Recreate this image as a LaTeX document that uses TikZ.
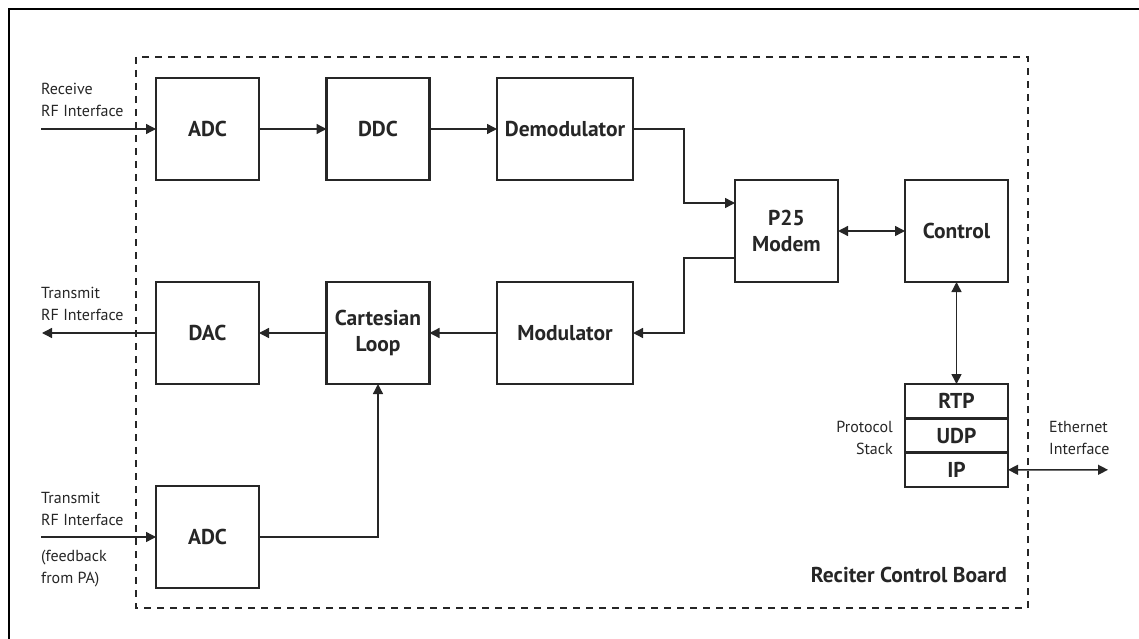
\documentclass[tikz,border=0pt]{standalone}
\usepackage{fontspec}
\setmainfont{PT Sans}
\usetikzlibrary{arrows.meta,calc}
\tikzset{
  box/.style={draw=black!85, line width=2.4pt, inner sep=0pt, outer sep=0pt,
    font=\fontsize{21.5}{25.5}\selectfont\bfseries, text=black!85, align=center},
  stk/.style={box, minimum width=103pt, minimum height=34.3pt},
  conn/.style={draw=black!85, line width=1.4pt},
  arr/.style={conn, -{Triangle[length=10pt,width=10pt]}},
  darr/.style={conn, {Triangle[length=10pt,width=10pt]}-{Triangle[length=10pt,width=10pt]}},
  lbl/.style={font=\fontsize{16}{22}\selectfont, text=black!85, inner sep=0pt, align=left},
  board/.style={draw=black!85, line width=1.3pt, dash pattern=on 7pt off 6pt},
}
\begin{document}
\begin{tikzpicture}[x=1pt,y=-1pt]
\useasboundingbox (0,0) rectangle (1139,639);
% outer frame (top and left only)
\draw[line width=2.6pt] (9,639) -- (9,9) -- (1139,9);
% board
\draw[board] (136,57) rectangle (1028,608);
% boxes
\node[box, minimum width=103pt, minimum height=102pt] (adc1) at (207.5,129) {ADC};
\node[box, minimum width=103pt, minimum height=102pt] (ddc) at (378,129) {DDC};
\node[box, minimum width=136pt, minimum height=102pt] (demod) at (565,129) {Demodulator};
\node[box, minimum width=103pt, minimum height=102pt] (modem) at (786.5,231) {P25\\Modem};
\node[box, minimum width=103pt, minimum height=102pt] (ctrl) at (956.5,231) {Control};
\node[box, minimum width=103pt, minimum height=102pt] (dac) at (207.5,333) {DAC};
\node[box, minimum width=103pt, minimum height=102pt] (cart) at (378,333) {Cartesian\\Loop};
\node[box, minimum width=136pt, minimum height=102pt] (mod) at (565,333) {Modulator};
\node[box, minimum width=103pt, minimum height=102pt] (adc2) at (207.5,537) {ADC};
\node[stk] (rtp) at (956.5,401.2) {RTP};
\node[stk, anchor=north] (udp) at (rtp.south) {UDP};
\node[stk, anchor=north] (ip) at (udp.south) {IP};
% labels
\node[lbl, anchor=base west] (l1a) at (41,95) {Receive};
\node[lbl, anchor=base west] (l1b) at (41,117) {RF Interface};
\node[lbl, anchor=base west] (l2a) at (41,298) {Transmit};
\node[lbl, anchor=base west] (l2b) at (41,320) {RF Interface};
\node[lbl, anchor=base west] (l3a) at (41,503) {Transmit};
\node[lbl, anchor=base west] (l3b) at (41,525) {RF Interface};
\node[lbl, anchor=base west] (l3c) at (41,561) {(feedback};
\node[lbl, anchor=base west] (l3d) at (41,583) {from PA)};
\node[lbl, anchor=base east] (ps1) at (893,432) {Protocol};
\node[lbl, anchor=base east] (ps2) at (893,454) {Stack};
\node[lbl, anchor=base west] (et1) at (1049,432) {Ethernet};
\node[lbl, anchor=base west] (et2) at (1049,454) {Interface};
\node[box, draw=none, anchor=base east] (rcb) at (1007,582) {Reciter Control Board};
% endpoints
\coordinate (in1) at (41,129);
\coordinate (out1) at (42,333);
\coordinate (in2) at (41,537);
\coordinate (eth) at (1108,469.8);
% connectors
\draw[arr] (in1) -- (adc1.west);
\draw[arr] (adc1.east) -- (ddc.west);
\draw[arr] (ddc.east) -- (demod.west);
\draw[arr] (demod.east) -- (684,129) |- ($(modem.west)+(0,-28)$);
\draw[arr] ($(modem.west)+(0,27)$) -- (684,258) |- (mod.east);
\draw[arr] (mod.west) -- (cart.east);
\draw[arr] (cart.west) -- (dac.east);
\draw[arr] (dac.west) -- (out1);
\draw[arr] (in2) -- (adc2.west);
\draw[arr] (adc2.east) -| (cart.south);
\draw[darr] (modem.east) -- (ctrl.west);
\draw[darr] (ctrl.south) -- (rtp.north);
\draw[darr] (ip.east) -- (eth);
\end{tikzpicture}
\end{document}
